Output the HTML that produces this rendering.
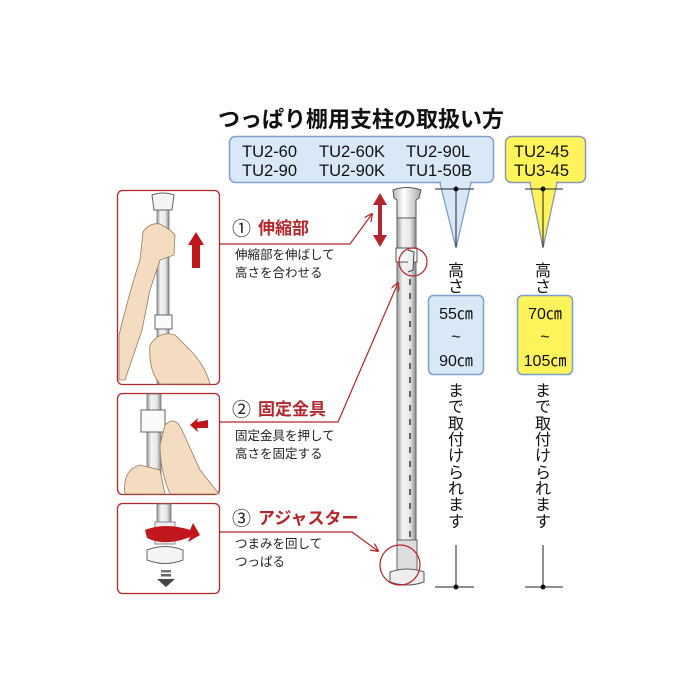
<!DOCTYPE html>
<html><head><meta charset="utf-8"><style>
html,body{margin:0;padding:0;background:#fff;}
svg{display:block;font-family:"Liberation Sans","Noto Sans CJK JP",sans-serif;}
</style></head><body>
<svg width="700" height="700" viewBox="0 0 700 700" xmlns="http://www.w3.org/2000/svg">
<defs>
<linearGradient id="pole" x1="0" x2="1"><stop offset="0" stop-color="#9a9a9a"/><stop offset="0.3" stop-color="#f4f4f4"/><stop offset="0.7" stop-color="#e6e6e6"/><stop offset="1" stop-color="#8a8a8a"/></linearGradient>
<linearGradient id="cap" x1="0" x2="1"><stop offset="0" stop-color="#bbb"/><stop offset="0.4" stop-color="#fff"/><stop offset="1" stop-color="#aaa"/></linearGradient>
<marker id="ah" viewBox="0 0 10 10" refX="9" refY="5" markerWidth="7" markerHeight="7" orient="auto"><path d="M0,0 L10,5 L0,10" fill="none" stroke="#b3262b" stroke-width="1.5"/></marker>
</defs>
<text x="218" y="127" font-size="22" font-weight="bold" fill="#111">つっぱり棚用支柱の取扱い方</text>
<rect x="229.5" y="136.5" width="264" height="46" rx="6" fill="#d8e8f6" stroke="#7e9ecb" stroke-width="1.5"/>
<g font-size="16.5" fill="#111">
<text x="242" y="157">TU2-60</text><text x="319" y="157">TU2-60K</text><text x="406" y="157">TU2-90L</text>
<text x="242" y="176">TU2-90</text><text x="319" y="176">TU2-90K</text><text x="406" y="176">TU1-50B</text>
</g>
<rect x="505.5" y="136.5" width="80" height="46" rx="6" fill="#fff35c" stroke="#8a97b8" stroke-width="1.5"/>
<g font-size="16.5" fill="#111"><text x="514" y="157">TU2-45</text><text x="514" y="176">TU3-45</text></g>
<path d="M440,183 L456,248 L471,183 Z" fill="#d8e8f6" stroke="#7e9ecb" stroke-width="1.3"/>
<path d="M530,183 L543,248 L557,183 Z" fill="#fff35c" stroke="#8a97b8" stroke-width="1.3"/>
<rect x="441" y="181" width="29" height="4" fill="#d8e8f6"/>
<rect x="531" y="181" width="25" height="4" fill="#fff35c"/>
<g stroke="#222" stroke-width="1">
<line x1="435" y1="189" x2="474" y2="189"/><line x1="456" y1="189" x2="456" y2="247"/>
<line x1="525" y1="189" x2="563" y2="189"/><line x1="543" y1="189" x2="543" y2="247"/>
<line x1="435" y1="587" x2="474" y2="587"/><line x1="456" y1="545" x2="456" y2="587"/>
<line x1="525" y1="587" x2="563" y2="587"/><line x1="543" y1="545" x2="543" y2="587"/>
</g>
<g fill="#111"><circle cx="456" cy="189" r="2.5"/><circle cx="543" cy="189" r="2.5"/><circle cx="456" cy="587" r="2.5"/><circle cx="543" cy="587" r="2.5"/></g>
<g font-size="16" fill="#111" text-anchor="middle">
<text x="456" y="276">高</text><text x="456" y="292">さ</text>
<text x="543" y="276">高</text><text x="543" y="292">さ</text>
</g>
<rect x="428.5" y="295.5" width="55" height="79" rx="5" fill="#d8e8f6" stroke="#7e9ecb" stroke-width="1.5"/>
<rect x="517.5" y="295.5" width="55" height="79" rx="5" fill="#fff35c" stroke="#7e9ecb" stroke-width="1.5"/>
<g font-size="16" fill="#111" text-anchor="middle">
<text x="456" y="319">55㎝</text><text x="456" y="342">~</text><text x="456" y="366">90㎝</text>
<text x="545" y="319">70㎝</text><text x="545" y="342">~</text><text x="545" y="366">105㎝</text>
</g>
<g font-size="16" fill="#111" text-anchor="middle">
<text x="456" y="396">ま</text><text x="456" y="412">で</text><text x="456" y="429">取</text><text x="456" y="445">付</text><text x="456" y="461">け</text><text x="456" y="478">ら</text><text x="456" y="494">れ</text><text x="456" y="510">ま</text><text x="456" y="527">す</text>
<text x="543" y="396">ま</text><text x="543" y="412">で</text><text x="543" y="429">取</text><text x="543" y="445">付</text><text x="543" y="461">け</text><text x="543" y="478">ら</text><text x="543" y="494">れ</text><text x="543" y="510">ま</text><text x="543" y="527">す</text>
</g>
<rect x="397" y="200" width="19" height="380" fill="url(#pole)" stroke="#666" stroke-width="1"/>
<line x1="410" y1="265" x2="410" y2="560" stroke="#333" stroke-width="1.5" stroke-dasharray="6,8"/>
<path d="M393,190 Q407,185 421,190 L419,198 L416,200 L416,218 L397,218 L397,200 L394,198 Z" fill="url(#cap)" stroke="#555" stroke-width="1"/>
<rect x="396" y="248" width="21" height="14" fill="#f6f6f6" stroke="#555"/>
<path d="M408,250 L414,252 L413,270 L408,272" fill="#eee" stroke="#444"/>
<rect x="397" y="540" width="20" height="30" fill="#ddd" stroke="#666"/>
<path d="M390,572 Q407,566 424,572 L424,582 Q407,588 390,582 Z" fill="#eee" stroke="#555"/>
<circle cx="413" cy="262" r="14" fill="none" stroke="#b3262b" stroke-width="1.2"/>
<circle cx="400" cy="565" r="20" fill="none" stroke="#b3262b" stroke-width="1.2"/>
<path d="M380,193 L373,205 L378,205 L378,235 L373,235 L380,247 L387,235 L382,235 L382,205 L387,205 Z" fill="#b3262b"/>
<g fill="#fff" stroke="#b3262b" stroke-width="1.3">
<rect x="117.5" y="190.5" width="102" height="194" rx="5"/>
<rect x="117.5" y="393.5" width="102" height="101" rx="5"/>
<rect x="117.5" y="503.5" width="102" height="90" rx="5"/>
</g>
<rect x="157" y="205" width="12" height="179" fill="url(#pole)" stroke="#777" stroke-width="0.8"/>
<path d="M152,195 Q163,191 174,195 L172,210 L154,210 Z" fill="#f4f4f4" stroke="#666"/>
<path d="M119,335 Q130,290 140,260 L143,232 Q150,222 160,224 L170,230 L175,235 L174,255 L160,260 L150,290 L142,330 L125,380 L119,380 Z" fill="#f3dcc0" stroke="#9a7a60" stroke-width="0.8"/>
<rect x="155" y="315" width="17" height="14" fill="#fafafa" stroke="#666"/>
<path d="M150,345 Q160,330 175,335 L190,350 Q205,365 210,384 L160,384 Q148,370 150,345 Z" fill="#f3dcc0" stroke="#9a7a60" stroke-width="0.8"/>
<path d="M196,232 L188,245 L192,245 L192,268 L200,268 L200,245 L204,245 Z" fill="#c0161c"/>
<rect x="147" y="394" width="14" height="100" fill="url(#pole)" stroke="#777" stroke-width="0.8"/>
<rect x="141" y="410" width="24" height="22" fill="#fafafa" stroke="#666"/>
<path d="M165,425 Q175,415 182,430 L200,470 Q212,485 219,494 L170,494 Q160,470 160,445 Z" fill="#f3dcc0" stroke="#9a7a60" stroke-width="0.8"/>
<path d="M125,494 Q122,470 140,465 L160,470 L165,494 Z" fill="#f3dcc0" stroke="#9a7a60" stroke-width="0.8"/>
<path d="M190,425 L198,418 L197,422 L208,420 L208,428 L197,428 L198,432 Z" fill="#c0161c"/>
<rect x="157" y="504" width="14" height="20" fill="url(#pole)" stroke="#777" stroke-width="0.8"/>
<rect x="155" y="522" width="20" height="22" fill="#eee" stroke="#888"/>
<path d="M145,530 Q165,522 190,530 L193,523 L200,535 L188,542 L190,537 Q165,547 147,538 Z" fill="#c0161c"/>
<path d="M147,550 Q165,543 183,550 L183,560 Q165,567 147,560 Z" fill="#f4f4f4" stroke="#666"/>
<rect x="161" y="570" width="10" height="2.5" fill="#777"/><rect x="161" y="574" width="10" height="2.5" fill="#666"/>
<path d="M157,579 L175,579 L166,587 Z" fill="#444"/>
<g fill="none" stroke="#b3262b" stroke-width="1.2">
<polyline points="219,244 350,244 372,214" marker-end="url(#ah)"/>
<polyline points="220,422 338,422 398,283" marker-end="url(#ah)"/>
<polyline points="220,532 352,532 378,551" marker-end="url(#ah)"/>
</g>
<g font-size="17">
<text x="232" y="235" fill="#222" font-size="19">①</text><text x="258" y="234" fill="#b3262b" font-weight="bold">伸縮部</text>
<text x="232" y="416" fill="#222" font-size="19">②</text><text x="258" y="415" fill="#b3262b" font-weight="bold">固定金具</text>
<text x="232" y="525" fill="#222" font-size="19">③</text><text x="258" y="524" fill="#b3262b" font-weight="bold">アジャスター</text>
</g>
<g font-size="12.5" fill="#222">
<text x="235" y="259">伸縮部を伸ばして</text><text x="235" y="277">高さを合わせる</text>
<text x="235" y="440">固定金具を押して</text><text x="235" y="458">高さを固定する</text>
<text x="235" y="548">つまみを回して</text><text x="235" y="566">つっぱる</text>
</g>
</svg>
</body></html>
